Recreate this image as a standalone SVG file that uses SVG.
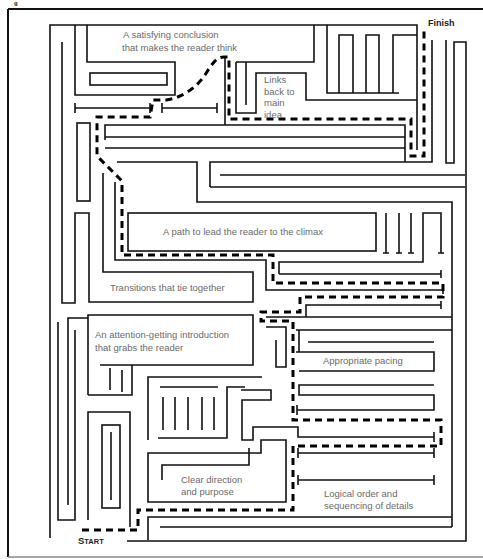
<svg xmlns="http://www.w3.org/2000/svg" width="483" height="559" viewBox="0 0 483 559">
<style>
.w{fill:none;stroke:#111;stroke-width:1.6;stroke-linejoin:miter}
.p{fill:none;stroke:#000;stroke-width:3;stroke-dasharray:7 5}
.t{font-family:"Liberation Sans",Arial,sans-serif;font-size:9.5px;fill:#6a6a6a}
.b{font-family:"Liberation Sans",Arial,sans-serif;font-weight:bold;fill:#222}
</style>
<rect width="483" height="559" fill="#fff"/>
<text class="b" x="14" y="5" font-size="6">g</text>
<g id="frame">
<path d="M8,9 H483 M8,9 V557" fill="none" stroke="#111" stroke-width="2"/>
<path d="M8,557 H483" fill="none" stroke="#888" stroke-width="1.5"/>
</g>
<g id="walls" class="w">
<path d="M50,538 V25 H417 V150"/>
<path d="M62,42 V303 H75 V213 H89 V302 H253 V272 H103 V173"/>
<path d="M75,25 V95 H175 V62 H87 V25"/>
<rect x="90" y="73" width="77" height="12"/>
<path d="M75,108 H150 M75,103 V113 M150,103 V113"/>
<path d="M162,108 H217 M162,103 V113 M217,103 V113"/>
<rect x="77" y="123" width="13" height="78"/>
<path d="M105,140 V125 H405 V162"/>
<path d="M221,57 H225 V125"/>
<path d="M105,137 H405 M105,148 H405"/>
<path d="M117,162 H197 V202 H452 V527"/>
<path d="M210,187 V162 H432 V40"/>
<path d="M220,175 H465 M210,187 H465"/>
<path d="M446,40 V163 H454 V42 H466 V541 H127"/>
<path d="M236,62 V113 H256 V73 H306 V100 H417"/>
<path d="M236,62 H314 V25 M246,62 V105"/>
<path d="M327,25 V93 H399"/>
<path d="M339,93 V35 H353 V93 M366,93 V35 H379 V93 M393,93 V35 H417"/>
<path d="M115,182 V260 H266 V290 H443 M443,286 V294"/>
<rect x="128" y="213" width="248" height="38"/>
<path d="M386,213 V253 M383,253 H389 M399,213 V253 M396,253 H402 M411,213 V253 M408,253 H414"/>
<path d="M279,274 V262 H423 V213 H441 V253 M438,253 H444"/>
<path d="M279,274 H441 M441,270 V278"/>
<path d="M266,317 H452"/>
<path d="M306,317 V305 H441 M441,301 V309"/>
<path d="M88,395 V315 H253 V365 H100"/>
<path d="M110,368 V390 M122,370 V392"/>
<path d="M132,365 V395 H88 M88,520 V412 H130 V527"/>
<path d="M58,322 V520 H75 V330 M68,505 V318 H88"/>
<rect x="102" y="425" width="18" height="83"/>
<path d="M111,432 V500"/>
<path d="M148,440 V377 H262"/>
<path d="M160,387 H218"/>
<path d="M163,397 V430 M175,397 V430 M188,397 V430 M202,397 V430 M214,397 V430"/>
<path d="M158,438 H227 V387 H245"/>
<path d="M241,390 H271 V400 H242 V440 H253 V427 H298 V437 H434 M434,432 V442"/>
<path d="M162,480 V465 H249 V448"/>
<path d="M148,453 H261 V440 H286 V502 H148 Z"/>
<path d="M298,453 H434 M298,448 V458 M434,448 V458"/>
<path d="M298,480 H434 M298,475 V485 M434,475 V485"/>
<path d="M266,327 H286 V367 H276 V340"/>
<path d="M296,330 H452 M299,330 V352"/>
<path d="M308,342 H434"/>
<path d="M296,352 H434 V371 H299"/>
<path d="M434,385 H299 V395 H434 V410 H297 M297,405 V415"/>
<path d="M148,540 V517 H452 M160,527 H452"/>
</g>
<g id="connectors">
<path class="p" d="M82,530 H138 V510 H293 V446 H441 V420 H293 V321 H261 V312 H300 V297 H443 V283 H273 V255 H122 V181 L97,156 V117 H150 L153,100 H166 C182,98 196,88 205,75 C212,64 216,57 224,57 H229 V119 H411 V156 H424 V30"/>
</g>
<g id="labels">
<text class="t" x="123" y="38">A satisfying conclusion</text>
<text class="t" x="122" y="51">that makes the reader think</text>
<text class="t" x="264" y="83">Links</text>
<text class="t" x="264" y="95">back to</text>
<text class="t" x="264" y="106">main</text>
<text class="t" x="264" y="118">idea</text>
<text class="b" x="428" y="26" font-size="9">Finish</text>
<text class="t" x="163" y="235">A path to lead the reader to the climax</text>
<text class="t" x="110" y="291">Transitions that tie together</text>
<text class="t" x="95" y="338">An attention-getting introduction</text>
<text class="t" x="95" y="351">that grabs the reader</text>
<text class="t" x="323" y="364">Appropriate pacing</text>
<text class="t" x="181" y="483">Clear direction</text>
<text class="t" x="181" y="495">and purpose</text>
<text class="t" x="324" y="497">Logical order and</text>
<text class="t" x="324" y="509">sequencing of details</text>
<text class="b" x="78" y="544" font-size="9.5">S<tspan font-size="7.5">TART</tspan></text>
</g>
</svg>
